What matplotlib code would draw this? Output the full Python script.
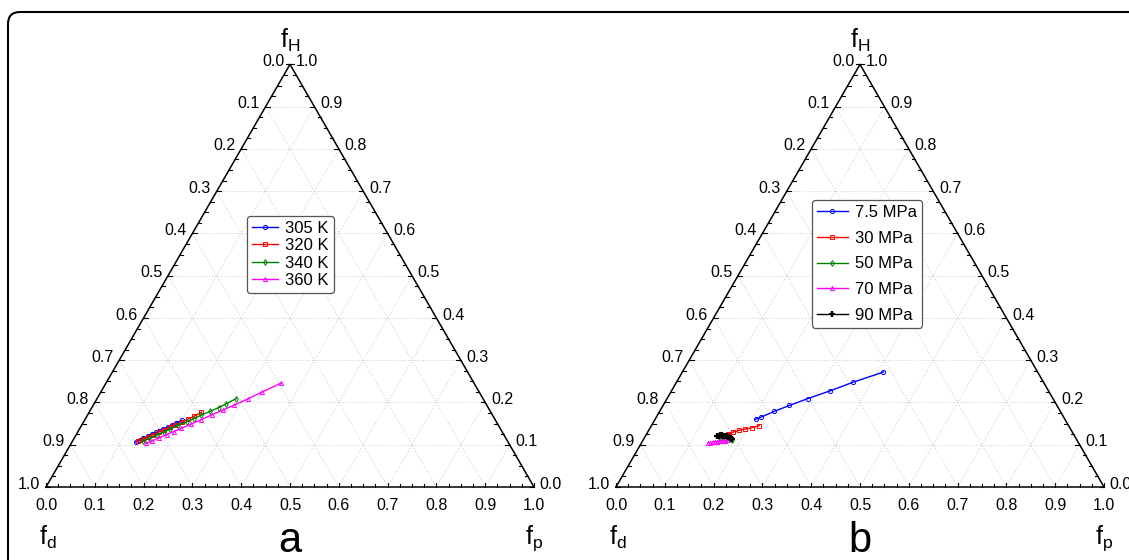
import numpy as np
import matplotlib
matplotlib.use('Agg')
import matplotlib.pyplot as plt
from matplotlib.patches import FancyBboxPatch

plt.rcParams['font.family'] = ['Liberation Sans', 'DejaVu Sans']
plt.rcParams['mathtext.fontset'] = 'custom'
plt.rcParams['mathtext.rm'] = 'Liberation Sans'

# panel a: temperature series (fp, fH; fd = 1 - fp - fH)
temp_labels = ['305 K', '320 K', '340 K', '360 K']
temp_fp = [
    [0.131, 0.137, 0.142, 0.148, 0.155, 0.160, 0.166, 0.171, 0.178, 0.184, 0.190, 0.199],
    [0.134, 0.142, 0.149, 0.158, 0.166, 0.174, 0.183, 0.191, 0.201, 0.210, 0.219, 0.230],
    [0.144, 0.154, 0.166, 0.176, 0.186, 0.198, 0.211, 0.222, 0.233, 0.247, 0.260, 0.271, 0.285],
    [0.154, 0.163, 0.173, 0.185, 0.196, 0.208, 0.223, 0.238, 0.255, 0.271, 0.289, 0.309, 0.331, 0.359],
]
temp_fH = [
    [0.106, 0.111, 0.115, 0.120, 0.125, 0.129, 0.133, 0.137, 0.142, 0.147, 0.151, 0.158],
    [0.108, 0.113, 0.118, 0.124, 0.130, 0.135, 0.142, 0.147, 0.154, 0.160, 0.167, 0.177],
    [0.108, 0.115, 0.123, 0.130, 0.137, 0.146, 0.154, 0.162, 0.170, 0.179, 0.188, 0.197, 0.209],
    [0.103, 0.109, 0.116, 0.124, 0.131, 0.139, 0.149, 0.159, 0.171, 0.182, 0.194, 0.208, 0.225, 0.246],
]
temp_colors = ['blue', 'red', 'green', 'magenta']
temp_markers = ['o', 's', 'd', '^']

# panel b: pressure series
pres_labels = ['7.5 MPa', '30 MPa', '50 MPa', '70 MPa', '90 MPa']
pres_fp = [
    [0.206, 0.214, 0.235, 0.259, 0.288, 0.324, 0.362, 0.412],
    [0.153, 0.160, 0.167, 0.175, 0.185, 0.196, 0.208, 0.221],
    [0.152, 0.158, 0.164, 0.170, 0.176, 0.181],
    [0.137, 0.141, 0.145, 0.149, 0.153, 0.157, 0.161, 0.165, 0.168, 0.171],
    [0.147, 0.150, 0.153, 0.156, 0.158, 0.161, 0.163, 0.166, 0.168, 0.171, 0.173, 0.176, 0.179, 0.181],
]
pres_fH = [
    [0.160, 0.165, 0.179, 0.193, 0.209, 0.227, 0.248, 0.272],
    [0.121, 0.124, 0.126, 0.130, 0.134, 0.137, 0.140, 0.145],
    [0.118, 0.118, 0.117, 0.116, 0.114, 0.112],
    [0.105, 0.105, 0.106, 0.107, 0.107, 0.108, 0.109, 0.110, 0.110, 0.111],
    [0.121, 0.121, 0.122, 0.122, 0.121, 0.121, 0.121, 0.120, 0.120, 0.119, 0.118, 0.117, 0.115, 0.113],
]
pres_colors = ['blue', 'red', 'green', 'magenta', 'black']
pres_markers = ['o', 's', 'd', '^', '+']

ticks = np.round(np.arange(0, 1.01, 0.1), 1)
H = np.sqrt(3) / 2
W, HH = 1129, 560


def cart(fp, fH):
    fp = np.asarray(fp)
    fH = np.asarray(fH)
    return fp + fH / 2, fH * H


def ternary_frame(ax, tag):
    ax.set_xlim(0, 1)
    ax.set_ylim(0, H)
    ax.axis('off')
    # grid
    for v in ticks[1:-1]:
        gkw = dict(color='#c8c8c8', lw=0.7, ls=(0, (1, 2)), zorder=1)
        ax.plot([v / 2, 1 - v / 2], [v * H, v * H], **gkw)           # const fH
        ax.plot([v, v / 2 + 0.5], [0, (1 - v) * H], **gkw)           # const fp
        ax.plot([v, v / 2], [0, v * H], **gkw)                       # const fd
    ax.plot([0, 1, 0.5, 0], [0, 0, H, 0], color='black', lw=1.1, zorder=3, clip_on=False)
    # ticks
    n_in = [(0, 1), (1, 0), (-1, 0)]
    for k in range(41):
        t = k / 40
        L = 0.009 if k % 4 == 0 else 0.006
        pts = [(t, 0), (t / 2, t * H), (1 - t / 2, t * H)]
        for (px, py), (nx, ny) in zip(pts, n_in):
            ax.plot([px, px + nx * L], [py, py + ny * L], color='black', lw=0.8,
                    zorder=3, clip_on=False)
    fs = 11.5
    for v in ticks:
        ax.text(v, -0.037, f'{v:.1f}', ha='center', va='center', fontsize=fs)
        fH = 1 - v
        ax.text(fH / 2 - 0.012, fH * H + 0.006, f'{v:.1f}', ha='right', va='center', fontsize=fs)
        ax.text(1 - v / 2 + 0.012, v * H + 0.006, f'{v:.1f}', ha='left', va='center', fontsize=fs)
    ax.text(0.5, 0.915, r'$\mathregular{f_H}$', ha='center', va='center', fontsize=18)
    ax.text(0.004, -0.104, r'$\mathregular{f_d}$', ha='center', va='center', fontsize=18)
    ax.text(1.0, -0.104, r'$\mathregular{f_p}$', ha='center', va='center', fontsize=18)
    ax.text(0.5, -0.11, tag, ha='center', va='center', fontsize=30)


fig = plt.figure(figsize=(W / 100, HH / 100), dpi=100)

# outer rounded frame
bg = fig.add_axes([0, 0, 1, 1])
bg.set_xlim(0, W)
bg.set_ylim(HH, 0)
bg.axis('off')
bg.add_patch(FancyBboxPatch((8, 12), 1140, 560, boxstyle='round,pad=0,rounding_size=12',
                            fc='white', ec='black', lw=1.5))

h_px = 488 * H
axa = fig.add_axes([46 / W, 73 / HH, 488 / W, h_px / HH])
axb = fig.add_axes([616 / W, 73 / HH, 488 / W, h_px / HH])
for ax in (axa, axb):
    ax.patch.set_alpha(0)

ternary_frame(axa, 'a')
ternary_frame(axb, 'b')

for lab, fp, fH, c, m in zip(temp_labels, temp_fp, temp_fH, temp_colors, temp_markers):
    x, y = cart(fp, fH)
    axa.plot(x, y, color=c, marker=m, ms=3, mfc='none', mew=0.7, lw=1.0, label=lab,
             zorder=4, clip_on=False)

for lab, fp, fH, c, m in zip(pres_labels, pres_fp, pres_fH, pres_colors, pres_markers):
    x, y = cart(fp, fH)
    axb.plot(x, y, color=c, marker=m, ms=3 if m != '+' else 4.5, mfc='none',
             mew=0.7 if m != '+' else 1.6, lw=1.0, label=lab, zorder=4, clip_on=False)

lkw = dict(loc='upper left', fontsize=12, frameon=True, fancybox=True, framealpha=1,
           edgecolor='#555555', handletextpad=0.45, borderpad=0.3, borderaxespad=0,
           bbox_transform=fig.transFigure)
la = axa.legend(bbox_to_anchor=(247 / W, 1 - 216 / HH), labelspacing=0.14,
                handlelength=1.55, **lkw)
lb = axb.legend(bbox_to_anchor=(812 / W, 1 - 200 / HH), labelspacing=0.64,
                handlelength=1.85, **lkw)
for lg in (la, lb):
    lg.get_frame().set_linewidth(0.9)

fig.savefig('out.png', dpi=100)
